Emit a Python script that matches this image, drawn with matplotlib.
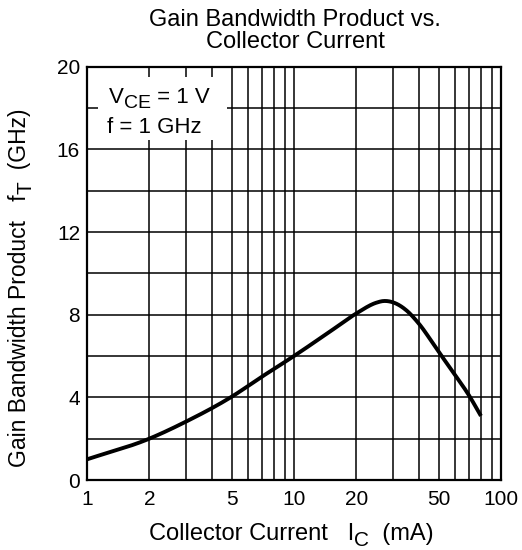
import numpy as np
import matplotlib.pyplot as plt
from matplotlib.patches import Rectangle
from matplotlib.ticker import FixedLocator, NullLocator

plt.rcParams['font.family'] = ['Liberation Sans', 'DejaVu Sans']

# curve (Ic in mA, fT in GHz)
ic = [1, 2, 3, 5, 7, 10, 15, 20, 25, 27, 30, 35, 40, 50, 60, 70, 80]
ft = [1.0, 2.0, 2.82, 4.03, 5.0, 6.0, 7.2, 8.06, 8.58, 8.66, 8.6, 8.2, 7.58, 6.2, 5.08, 4.1, 3.1]

x_ticks = [1, 2, 5, 10, 20, 50, 100]
x_grid = [1, 2, 3, 4, 5, 6, 7, 8, 9, 10, 20, 30, 40, 50, 60, 70, 80, 90, 100]
y_ticks = [0, 4, 8, 12, 16, 20]
y_grid = [2, 4, 6, 8, 10, 12, 14, 16, 18]


def hermite(xp, yp, xq):
    xp = np.asarray(xp, float)
    yp = np.asarray(yp, float)
    m = np.gradient(yp, xp)
    out = np.empty_like(xq)
    for k, x in enumerate(xq):
        i = int(np.clip(np.searchsorted(xp, x) - 1, 0, len(xp) - 2))
        h = xp[i + 1] - xp[i]
        t = (x - xp[i]) / h
        out[k] = ((2 * t**3 - 3 * t**2 + 1) * yp[i] + (t**3 - 2 * t**2 + t) * h * m[i]
                  + (-2 * t**3 + 3 * t**2) * yp[i + 1] + (t**3 - t**2) * h * m[i + 1])
    return out


def pieces(fig, x, y, parts, rotation=0):
    # draw text pieces one after another in pixel space; parts = (text, size, drop)
    r = fig.canvas.get_renderer()
    for txt, size, drop in parts:
        if rotation == 0:
            t = fig.text(x, y - drop, txt, fontsize=size, transform=None,
                         ha='left', va='baseline', zorder=6)
            x = t.get_window_extent(r).x1
        else:
            t = fig.text(x + drop, y, txt, fontsize=size, transform=None,
                         ha='left', va='baseline', rotation=90,
                         rotation_mode='anchor', zorder=6)
            y = t.get_window_extent(r).y1


fig = plt.figure(figsize=(5.22, 5.5), dpi=100)
ax = fig.add_axes([87 / 522, 70 / 550, 414 / 522, 413.3 / 550])

lx = np.log10(ic)
xs = np.linspace(lx[0], lx[-1], 500)
ax.plot(10 ** xs, hermite(lx, ft, xs), color='black', lw=2.8,
        solid_capstyle='butt', zorder=3)

ax.set_xscale('log')
ax.set_xlim(1, 100)
ax.set_ylim(0, 20)
ax.xaxis.set_major_locator(FixedLocator(x_ticks))
ax.xaxis.set_minor_locator(NullLocator())
ax.set_xticklabels([str(v) for v in x_ticks])
ax.set_yticks(y_ticks)

for v in x_grid:
    ax.axvline(v, color='black', lw=1.1, zorder=1)
for v in y_grid:
    ax.axhline(v, color='black', lw=1.1, zorder=1)

ax.tick_params(axis='x', length=0, labelsize=15, pad=7)
ax.tick_params(axis='y', length=0, labelsize=15, pad=5)
for s in ax.spines.values():
    s.set_linewidth(1.6)
    s.set_zorder(5)

# white box behind the condition text
ax.add_patch(Rectangle((0.027, 0.823), 0.311, 0.152, transform=ax.transAxes,
                       facecolor='white', edgecolor='none', zorder=4))

H = 550
pieces(fig, 109, H - 103, [('V', 16, 0), ('CE', 14, 5), (' = 1 V', 16, 0)])
pieces(fig, 107, H - 133, [('f = 1 GHz', 16, 0)])

fig.text(295 / 522, 1 - 48 / 550, 'Gain Bandwidth Product vs.\nCollector Current',
         fontsize=17, ha='center', va='baseline', linespacing=1.02)

pieces(fig, 149, H - 540, [('Collector Current   I', 17, 0), ('C', 15, 6), ('  (mA)', 17, 0)])
pieces(fig, 26, 83, [('Gain Bandwidth Product   f', 16.5, 0), ('T', 15, 6), ('  (GHz)', 16.5, 0)],
       rotation=90)

fig.savefig('out.png', dpi=100)
